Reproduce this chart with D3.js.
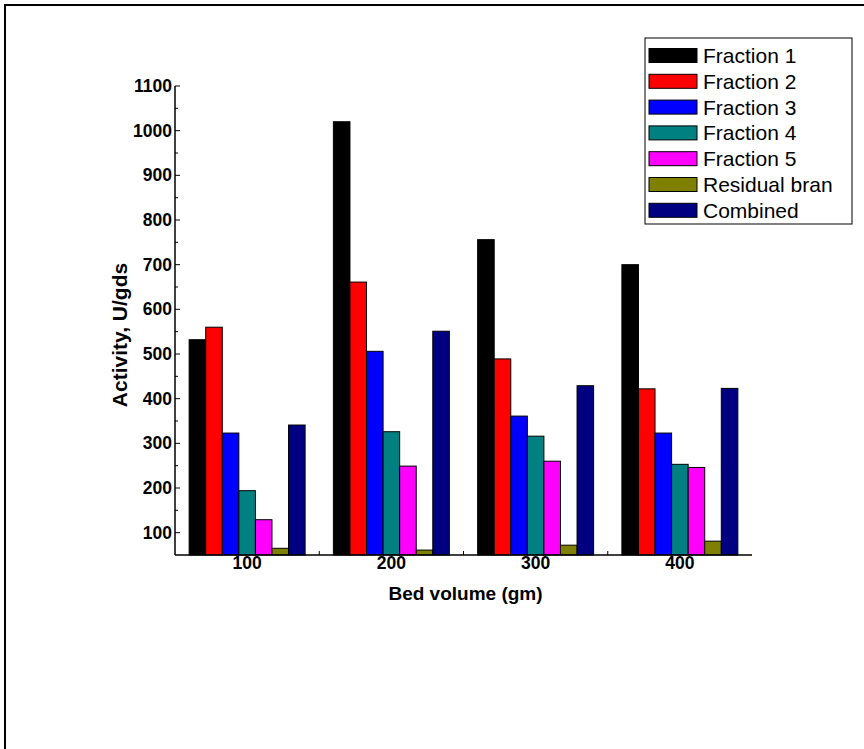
<!DOCTYPE html>
<html>
<head>
<meta charset="utf-8">
<script src="https://cdn.jsdelivr.net/npm/d3@7"></script>
<style>
  body { margin: 0; background: #fff; }
  svg { display: block; font-family: Arial, "Liberation Sans", sans-serif; }
</style>
</head>
<body>
<svg width="864" height="749"></svg>
<script>
(function (d3) {
  'use strict';

  // bed volumes on the x axis
  const categories = ['100', '200', '300', '400'];
  const seriesNames = ['Fraction 1', 'Fraction 2', 'Fraction 3', 'Fraction 4', 'Fraction 5', 'Residual bran', 'Combined'];
  const seriesColors = ['#000000', '#ff0000', '#0000ff', '#008080', '#ff00ff', '#808000', '#000080'];

  // activity (U/gds), one array per series, in category order
  const fraction1 = [532, 1020, 756, 700];
  const fraction2 = [560, 661, 489, 422];
  const fraction3 = [323, 506, 361, 323];
  const fraction4 = [194, 326, 316, 253];
  const fraction5 = [129, 249, 260, 246];
  const residualBran = [65, 61, 72, 81];
  const combined = [341, 551, 429, 423];

  const yTicks = [100, 200, 300, 400, 500, 600, 700, 800, 900, 1000, 1100];
  const yMinorTicks = [150, 250, 350, 450, 550, 650, 750, 850, 950, 1050];

  const seriesValues = [fraction1, fraction2, fraction3, fraction4, fraction5, residualBran, combined];

  const PLOT = { left: 175, right: 752, top: 86, bottom: 555 };

  const svg = d3.select('svg');

  // outer frame (only top and left edges show)
  svg.append('rect')
    .attr('x', 5).attr('y', 5)
    .attr('width', 1000).attr('height', 1000)
    .attr('fill', 'none')
    .attr('stroke', '#000')
    .attr('stroke-width', 2);

  const x0 = d3.scaleBand()
    .domain(categories)
    .range([PLOT.left, PLOT.right])
    .paddingInner(0.196)
    .paddingOuter(0.098);

  const x1 = d3.scaleBand()
    .domain(seriesNames)
    .range([0, x0.bandwidth()]);

  const y = d3.scaleLinear()
    .domain([50, 1100])
    .range([PLOT.bottom, PLOT.top]);

  // bars
  const groups = svg.append('g')
    .selectAll('g')
    .data(categories)
    .join('g')
    .attr('transform', d => `translate(${x0(d)},0)`);

  groups.selectAll('rect')
    .data((c, ci) => seriesNames.map((s, si) => ({ s, si, v: seriesValues[si][ci] })))
    .join('rect')
    .attr('x', d => x1(d.s))
    .attr('y', d => y(d.v))
    .attr('width', x1.bandwidth())
    .attr('height', d => y(y.domain()[0]) - y(d.v))
    .attr('fill', d => seriesColors[d.si])
    .attr('stroke', '#000')
    .attr('stroke-width', 1);

  // y axis
  const yAxisG = svg.append('g').attr('transform', `translate(${PLOT.left},0)`);
  yAxisG.append('line')
    .attr('y1', PLOT.top).attr('y2', PLOT.bottom)
    .attr('stroke', '#000').attr('stroke-width', 1.5);
  yAxisG.selectAll('line.major')
    .data(yTicks)
    .join('line')
    .attr('class', 'major')
    .attr('x1', 0).attr('x2', 5)
    .attr('y1', d => y(d)).attr('y2', d => y(d))
    .attr('stroke', '#000');
  yAxisG.selectAll('line.minor')
    .data(yMinorTicks)
    .join('line')
    .attr('class', 'minor')
    .attr('x1', 0).attr('x2', 3)
    .attr('y1', d => y(d)).attr('y2', d => y(d))
    .attr('stroke', '#000');
  yAxisG.selectAll('text')
    .data(yTicks)
    .join('text')
    .attr('x', -3)
    .attr('y', d => y(d))
    .attr('dy', '0.35em')
    .attr('text-anchor', 'end')
    .attr('font-size', 17.5)
    .attr('font-weight', 'bold')
    .text(d => d);

  // x axis
  const xAxisG = svg.append('g').attr('transform', `translate(0,${PLOT.bottom})`);
  xAxisG.append('line')
    .attr('x1', PLOT.left).attr('x2', PLOT.right)
    .attr('stroke', '#000').attr('stroke-width', 1.5);
  const boundaries = categories.slice(1).map(c => x0(c) + x0.bandwidth() / 2 - x0.step() / 2);
  xAxisG.selectAll('line.tick')
    .data(boundaries)
    .join('line')
    .attr('class', 'tick')
    .attr('x1', d => d).attr('x2', d => d)
    .attr('y1', 0).attr('y2', -4)
    .attr('stroke', '#000');
  xAxisG.selectAll('text')
    .data(categories)
    .join('text')
    .attr('x', d => x0(d) + x0.bandwidth() / 2)
    .attr('y', 14)
    .attr('text-anchor', 'middle')
    .attr('font-size', 17.5)
    .attr('font-weight', 'bold')
    .text(d => d);

  // axis titles
  svg.append('text')
    .attr('x', (PLOT.left + PLOT.right) / 2 + 2)
    .attr('y', 600)
    .attr('text-anchor', 'middle')
    .attr('font-size', 19)
    .attr('font-weight', 'bold')
    .text('Bed volume (gm)');

  svg.append('text')
    .attr('transform', 'translate(127,335) rotate(-90)')
    .attr('text-anchor', 'middle')
    .attr('font-size', 21)
    .attr('font-weight', 'bold')
    .text('Activity, U/gds');

  // legend
  const legend = svg.append('g').attr('transform', 'translate(645,38)');
  legend.append('rect')
    .attr('width', 207).attr('height', 186)
    .attr('fill', '#fff')
    .attr('stroke', '#000')
    .attr('stroke-width', 1);
  const items = legend.selectAll('g.item')
    .data(seriesNames)
    .join('g')
    .attr('class', 'item')
    .attr('transform', (d, i) => `translate(0,${17.5 + i * 25.8})`);
  items.append('rect')
    .attr('x', 4).attr('y', -7)
    .attr('width', 48).attr('height', 14)
    .attr('fill', (d, i) => seriesColors[i])
    .attr('stroke', '#000');
  items.append('text')
    .attr('x', 58)
    .attr('dy', '0.36em')
    .attr('font-size', 21)
    .text(d => d);

}(d3));
</script>
</body>
</html>
